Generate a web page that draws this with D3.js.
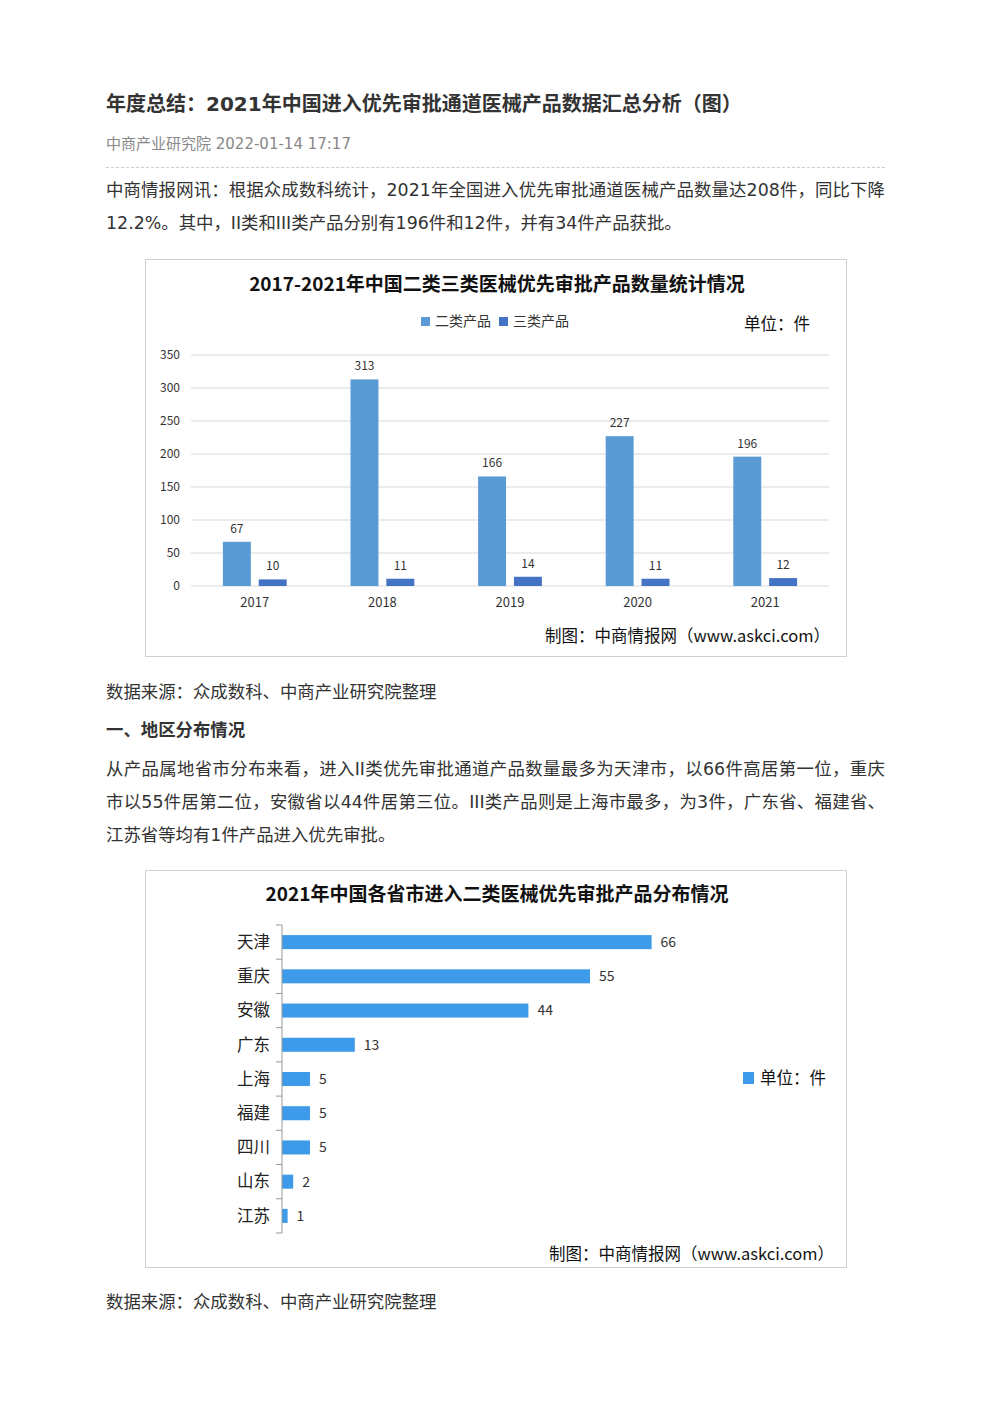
<!DOCTYPE html>
<html>
<head>
<meta charset="utf-8">
<script src="https://cdn.jsdelivr.net/npm/d3@7"></script>
<style>
  body { margin: 0; background: #fff; font-family: "DejaVu Sans", "Noto Sans CJK SC", sans-serif; color: #333; }
  #page { position: relative; width: 992px; height: 1403px; }
  .line { position: absolute; left: 106px; width: 779px; height: 33px; line-height: 33px; font-size: 17.4px; white-space: nowrap; }
  .just { text-align: justify; text-align-last: justify; }
  .chart { position: absolute; left: 145px; width: 700px; height: 396px; border: 1px solid #cfcfcf; }
  svg text { font-family: "Noto Sans CJK SC", sans-serif; }
</style>
</head>
<body>
<div id="page">
  <div class="line" style="top:88px;font-size:20px;font-weight:bold;">年度总结：2021年中国进入优先审批通道医械产品数据汇总分析（图）</div>
  <div class="line" style="top:128px;font-size:15px;color:#888;">中商产业研究院 2022-01-14 17:17</div>
  <div style="position:absolute;left:106px;top:167px;width:779px;border-top:1px dashed #ccc;"></div>
  <div class="line just" style="top:174px;">中商情报网讯：根据众成数科统计，2021年全国进入优先审批通道医械产品数量达208件，同比下降</div>
  <div class="line" style="top:207px;">12.2%。其中，II类和III类产品分别有196件和12件，并有34件产品获批。</div>

  <div class="chart" id="chart1" style="top:259px;"></div>

  <div class="line" style="top:676px;">数据来源：众成数科、中商产业研究院整理</div>
  <div class="line" style="top:714px;font-weight:bold;">一、地区分布情况</div>
  <div class="line just" style="top:753px;">从产品属地省市分布来看，进入II类优先审批通道产品数量最多为天津市，以66件高居第一位，重庆</div>
  <div class="line just" style="top:786px;">市以55件居第二位，安徽省以44件居第三位。III类产品则是上海市最多，为3件，广东省、福建省、</div>
  <div class="line" style="top:819px;">江苏省等均有1件产品进入优先审批。</div>

  <div class="chart" id="chart2" style="top:870px;"></div>

  <div class="line" style="top:1286px;">数据来源：众成数科、中商产业研究院整理</div>
</div>
<script>
// chart 1 data
const years = ["2017", "2018", "2019", "2020", "2021"];
const seriesNames = ["二类产品", "三类产品"];
const class2 = [67, 313, 166, 227, 196];
const class3 = [10, 11, 14, 11, 12];
const yTicks = [0, 50, 100, 150, 200, 250, 300, 350];

// chart 2 data
const provinces = ["天津", "重庆", "安徽", "广东", "上海", "福建", "四川", "山东", "江苏"];
const provinceCounts = [66, 55, 44, 13, 5, 5, 5, 2, 1];

const seriesColors = ["#5B9BD5", "#4472C4"];
const barColor2 = "#3D9BE9";

function drawChart1() {
  const width = 700, height = 396;
  const svg = d3.select("#chart1").append("svg")
    .attr("width", width).attr("height", height);

  const x0 = d3.scaleBand().domain(years).range([45, 683]);
  const x1 = d3.scaleBand().domain(seriesNames)
    .range([x0.bandwidth() * 0.25, x0.bandwidth() * 0.75]).paddingInner(0.22);
  const y = d3.scaleLinear().domain([0, 350]).range([326, 95]);

  // grid lines
  svg.append("g").selectAll("line").data(yTicks).enter().append("line")
    .attr("x1", 45).attr("x2", 683)
    .attr("y1", d => y(d)).attr("y2", d => y(d))
    .attr("stroke", "#d9d9d9").attr("stroke-width", 1);

  // y labels
  const yAxis = svg.append("g").attr("transform", "translate(34,0)")
    .call(d3.axisLeft(y).tickValues(yTicks).tickSize(0).tickPadding(0));
  yAxis.select(".domain").remove();
  yAxis.selectAll("text").attr("font-size", 12).attr("fill", "#333")
    .style("font-family", "'Noto Sans CJK SC', sans-serif");

  // x labels
  const xAxis = svg.append("g").attr("transform", "translate(0,326)")
    .call(d3.axisBottom(x0).tickSize(0).tickPadding(12));
  xAxis.select(".domain").remove();
  xAxis.selectAll("text").attr("font-size", 13).attr("fill", "#333")
    .style("font-family", "'Noto Sans CJK SC', sans-serif");

  const data = years.map((yr, i) => ({ year: yr, vals: [class2[i], class3[i]] }));

  const groups = svg.append("g").selectAll("g").data(data).enter().append("g")
    .attr("transform", d => `translate(${x0(d.year)},0)`);

  groups.selectAll("rect")
    .data(d => d.vals.map((v, j) => ({ name: seriesNames[j], v, j })))
    .enter().append("rect")
    .attr("x", d => x1(d.name))
    .attr("y", d => y(d.v))
    .attr("width", x1.bandwidth())
    .attr("height", d => y(0) - y(d.v))
    .attr("fill", d => seriesColors[d.j]);

  groups.selectAll("text.val")
    .data(d => d.vals.map((v, j) => ({ name: seriesNames[j], v, j })))
    .enter().append("text")
    .attr("class", "val")
    .attr("x", d => x1(d.name) + x1.bandwidth() / 2)
    .attr("y", d => y(d.v) - 9)
    .attr("text-anchor", "middle")
    .attr("font-size", 12).attr("fill", "#333")
    .text(d => d.v);

  // title
  svg.append("text").attr("x", 351).attr("y", 31)
    .attr("text-anchor", "middle").attr("font-size", 19).attr("font-weight", "bold")
    .attr("fill", "#111")
    .text("2017-2021年中国二类三类医械优先审批产品数量统计情况");

  // legend
  const legend = svg.append("g").attr("transform", "translate(275,57)");
  seriesNames.forEach((name, i) => {
    const g = legend.append("g").attr("transform", `translate(${i * 78},0)`);
    g.append("rect").attr("width", 9).attr("height", 9).attr("fill", seriesColors[i]);
    g.append("text").attr("x", 14).attr("y", 9).attr("font-size", 14).attr("fill", "#333").text(name);
  });

  svg.append("text").attr("x", 598).attr("y", 70).attr("font-size", 16.5).attr("fill", "#111")
    .text("单位：件");

  svg.append("text").attr("x", 684).attr("y", 382).attr("text-anchor", "end")
    .attr("font-size", 16.5).attr("fill", "#111")
    .text("制图：中商情报网（www.askci.com）");
}

function drawChart2() {
  const width = 700, height = 396;
  const svg = d3.select("#chart2").append("svg")
    .attr("width", width).attr("height", height);

  const y = d3.scaleBand().domain(provinces).range([54, 362]).paddingInner(0.59).paddingOuter(0.295);
  const x = d3.scaleLinear().domain([0, 70]).range([136, 528]);

  // bars
  svg.append("g").selectAll("rect").data(provinces).enter().append("rect")
    .attr("x", x(0))
    .attr("y", d => y(d))
    .attr("width", (d, i) => x(provinceCounts[i]) - x(0))
    .attr("height", y.bandwidth())
    .attr("fill", barColor2);

  // value labels
  svg.append("g").selectAll("text").data(provinces).enter().append("text")
    .attr("x", (d, i) => x(provinceCounts[i]) + 9)
    .attr("y", d => y(d) + y.bandwidth() / 2)
    .attr("dy", "0.35em")
    .attr("font-size", 14).attr("fill", "#333")
    .text((d, i) => provinceCounts[i]);

  // category axis
  const axis = svg.append("g").attr("transform", "translate(136,0)");
  axis.append("line").attr("x1", 0).attr("x2", 0)
    .attr("y1", 54).attr("y2", 362).attr("stroke", "#999");
  const bounds = d3.range(provinces.length + 1).map(i => 54 + i * y.step());
  axis.selectAll("line.tick").data(bounds).enter().append("line")
    .attr("class", "tick").attr("x1", -6).attr("x2", 0)
    .attr("y1", d => d).attr("y2", d => d).attr("stroke", "#999");
  axis.selectAll("text").data(provinces).enter().append("text")
    .attr("x", -12)
    .attr("y", d => y(d) + y.bandwidth() / 2)
    .attr("dy", "0.35em")
    .attr("text-anchor", "end")
    .attr("font-size", 16.5).attr("fill", "#222")
    .text(d => d);

  // title
  svg.append("text").attr("x", 351).attr("y", 30)
    .attr("text-anchor", "middle").attr("font-size", 19).attr("font-weight", "bold")
    .attr("fill", "#111")
    .text("2021年中国各省市进入二类医械优先审批产品分布情况");

  // legend
  svg.append("rect").attr("x", 597).attr("y", 201).attr("width", 11).attr("height", 12).attr("fill", barColor2);
  svg.append("text").attr("x", 614).attr("y", 213).attr("font-size", 16.5).attr("fill", "#111")
    .text("单位：件");

  svg.append("text").attr("x", 403).attr("y", 389)
    .attr("font-size", 16.5).attr("fill", "#111")
    .text("制图：中商情报网（www.askci.com）");
}

drawChart1();
drawChart2();
</script>
</body>
</html>
